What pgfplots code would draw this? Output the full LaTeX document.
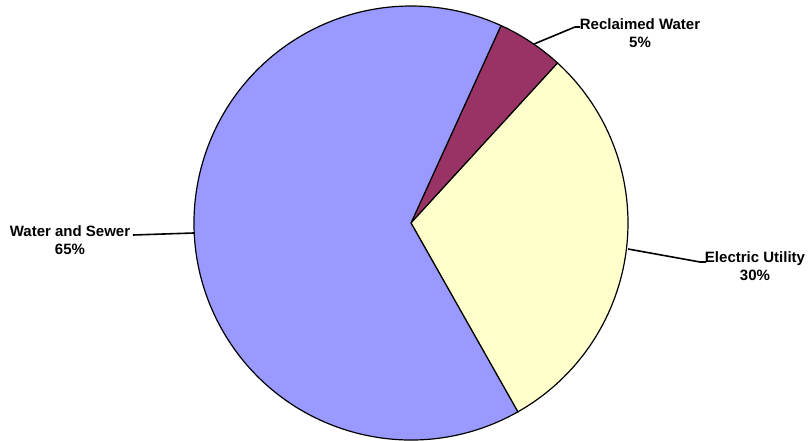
\documentclass[border=0pt]{standalone}
\usepackage{pgfplots}
\pgfplotsset{compat=1.18}
\usepackage{pgfplotstable}
\usepackage{fontspec}
\setmainfont{Liberation Sans}

\definecolor{water}{HTML}{9999FF}
\definecolor{reclaimed}{HTML}{993366}
\definecolor{electric}{HTML}{FFFFCC}

% share of each utility, in percent
\pgfplotstableread{
label value
Reclaimed 5
Electric 30
Water 65
}\slices

\begin{document}
\begin{tikzpicture}
\pgfplotstablegetelem{0}{value}\of\slices \let\vR\pgfplotsretval
\pgfplotstablegetelem{1}{value}\of\slices \let\vE\pgfplotsretval
\pgfplotstablegetelem{2}{value}\of\slices \let\vW\pgfplotsretval
% slices run clockwise from the start angle
\pgfmathsetmacro\aS{65.5}
\pgfmathsetmacro\aR{\aS-3.6*\vR}
\pgfmathsetmacro\aE{\aR-3.6*\vE}
\pgfmathsetmacro\aW{\aE-3.6*\vW}
\def\cx{411}\def\cy{217}\def\rr{217}
\begin{axis}[
  x=0.5pt, y=0.5pt, scale only axis,
  xmin=0, xmax=810, ymin=0, ymax=440,
  hide axis, clip=false,
]
\coordinate (bl) at (axis cs:0,0);
\coordinate (tr) at (axis cs:810,440);
\filldraw[fill=reclaimed, draw=black, line width=0.6pt]
  (axis cs:\cx,\cy) -- (axis cs:{\cx+\rr*cos(\aS)},{\cy+\rr*sin(\aS)})
  arc[start angle=\aS, end angle=\aR, radius=108.5pt] -- cycle;
\filldraw[fill=electric, draw=black, line width=0.6pt]
  (axis cs:\cx,\cy) -- (axis cs:{\cx+\rr*cos(\aR)},{\cy+\rr*sin(\aR)})
  arc[start angle=\aR, end angle=\aE, radius=108.5pt] -- cycle;
\filldraw[fill=water, draw=black, line width=0.6pt]
  (axis cs:\cx,\cy) -- (axis cs:{\cx+\rr*cos(\aE)},{\cy+\rr*sin(\aE)})
  arc[start angle=\aE, end angle=\aW, radius=108.5pt] -- cycle;

% leader lines
\addplot[black, line width=0.8pt] coordinates {(133,205) (194,207)};
\addplot[black, line width=0.8pt] coordinates {(534,396) (575,413) (580,413)};
\addplot[black, line width=0.8pt] coordinates {(628,191) (700,178) (706,178)};

% labels
\tikzset{lbl/.style={align=center, font=\fontsize{7.5}{9}\selectfont\bfseries, inner sep=0pt}}
\node[lbl] at (axis cs:70,200) {Water and Sewer\\65\%};
\node[lbl] at (axis cs:640,407) {Reclaimed Water\\5\%};
\node[lbl] at (axis cs:755,174) {Electric Utility\\30\%};
\end{axis}
\pgfresetboundingbox
\path (bl) rectangle (tr);
\end{tikzpicture}
\end{document}
